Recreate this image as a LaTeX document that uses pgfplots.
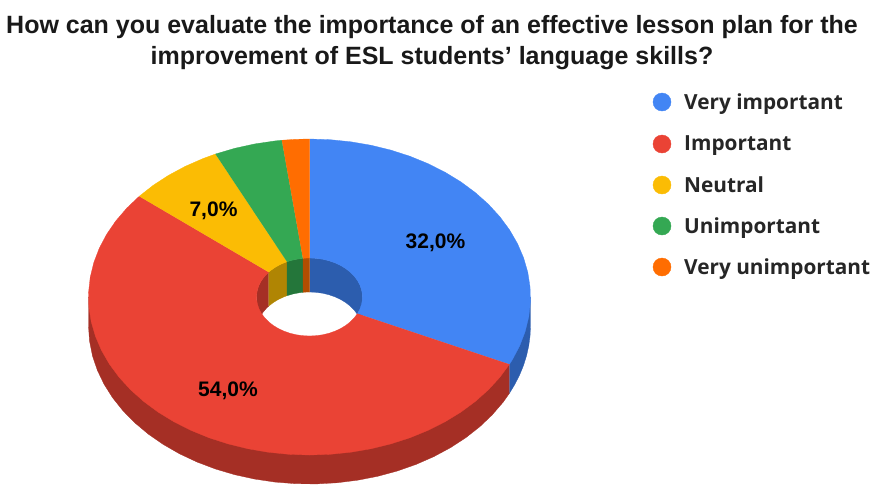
\documentclass[border=0pt]{standalone}
\usepackage{pgfplots}
\pgfplotsset{compat=1.18}
\usepackage{fontspec}
\setmainfont{Liberation Sans}
\newfontfamily\legfont{Open Sans}
\definecolor{cB}{HTML}{4285F4}\definecolor{cR}{HTML}{EA4335}\definecolor{cY}{HTML}{FBBC04}\definecolor{cG}{HTML}{34A853}\definecolor{cO}{HTML}{FF6D01}
\definecolor{dB}{HTML}{2C5DAE}\definecolor{dR}{HTML}{A52F25}\definecolor{dY}{HTML}{B08503}\definecolor{dG}{HTML}{24763A}\definecolor{dO}{HTML}{B34D01}
% Each row: a = cumulative share in percent, r = 1 outer / 0 inner rim, d = 0 top / 1 bottom of the ring
\pgfplotsset{table/.cd,pie/.style={row sep=\\,
  x expr={309.5+(\thisrow{r}*221+(1-\thisrow{r})*53)*sin(3.6*\thisrow{a})},
  y expr={297-(\thisrow{r}*158+(1-\thisrow{r})*39)*cos(3.6*\thisrow{a})+\thisrow{d}*(\thisrow{r}*29+(1-\thisrow{r})*34)}}}
\begin{document}
\begin{tikzpicture}
\begin{axis}[hide axis,scale only axis,width=872pt,height=484pt,xmin=0,xmax=872,ymin=0,ymax=484,y dir=reverse,clip=false]
\path (axis cs:0,0) rectangle (axis cs:872,484);
% outer walls
\addplot[fill=dB,draw=dB,line width=.3pt] table[pie]{a r d\\25 1 0\\32 1 0\\32 1 1\\31 1 1\\30 1 1\\29 1 1\\28 1 1\\27 1 1\\26 1 1\\25 1 1\\};
\addplot[fill=dR,draw=dR,line width=.3pt] table[pie]{a r d\\32 1 0\\50 1 0\\75 1 0\\75 1 1\\73.5 1 1\\72 1 1\\70.5 1 1\\69 1 1\\67.5 1 1\\66 1 1\\64.5 1 1\\63 1 1\\61.5 1 1\\60 1 1\\58.5 1 1\\57 1 1\\55.5 1 1\\54 1 1\\52.5 1 1\\51 1 1\\49.5 1 1\\48 1 1\\46.5 1 1\\45 1 1\\43.5 1 1\\42 1 1\\40.5 1 1\\39 1 1\\37.5 1 1\\36 1 1\\34.5 1 1\\33 1 1\\32 1 1\\};
% inner walls
\addplot[fill=dB,draw=dB,line width=.3pt] table[pie]{a r d\\0 0 0\\2 0 0\\4 0 0\\6 0 0\\8 0 0\\10 0 0\\12 0 0\\14 0 0\\16 0 0\\18 0 0\\20 0 0\\22 0 0\\24 0 0\\25 0 0\\25 0 1\\24 0 1\\22 0 1\\20 0 1\\18 0 1\\16 0 1\\14 0 1\\12 0 1\\10 0 1\\8 0 1\\6 0 1\\4 0 1\\2 0 1\\0 0 1\\};
\addplot[fill=dR,draw=dR,line width=.3pt] table[pie]{a r d\\75 0 0\\77 0 0\\79 0 0\\81 0 0\\83 0 0\\85 0 0\\86 0 0\\86 0 1\\85 0 1\\83 0 1\\81 0 1\\79 0 1\\77 0 1\\75 0 1\\};
\addplot[fill=dY,draw=dY,line width=.3pt] table[pie]{a r d\\86 0 0\\88 0 0\\90 0 0\\92 0 0\\93 0 0\\93 0 1\\92 0 1\\90 0 1\\88 0 1\\86 0 1\\};
\addplot[fill=dG,draw=dG,line width=.3pt] table[pie]{a r d\\93 0 0\\95 0 0\\97 0 0\\98 0 0\\98 0 1\\97 0 1\\95 0 1\\93 0 1\\};
\addplot[fill=dO,draw=dO,line width=.3pt] table[pie]{a r d\\98 0 0\\99 0 0\\100 0 0\\100 0 1\\99 0 1\\98 0 1\\};
% top faces
\addplot[fill=cB,draw=cB,line width=.3pt] table[pie]{a r d\\0 1 0\\1.5 1 0\\3 1 0\\4.5 1 0\\6 1 0\\7.5 1 0\\9 1 0\\10.5 1 0\\12 1 0\\13.5 1 0\\15 1 0\\16.5 1 0\\18 1 0\\19.5 1 0\\21 1 0\\22.5 1 0\\24 1 0\\25.5 1 0\\27 1 0\\28.5 1 0\\30 1 0\\31.5 1 0\\32 1 0\\32 0 0\\30 0 0\\28 0 0\\26 0 0\\24 0 0\\22 0 0\\20 0 0\\18 0 0\\16 0 0\\14 0 0\\12 0 0\\10 0 0\\8 0 0\\6 0 0\\4 0 0\\2 0 0\\0 0 0\\};
\addplot[fill=cR,draw=cR,line width=.3pt] table[pie]{a r d\\32 1 0\\33.5 1 0\\35 1 0\\36.5 1 0\\38 1 0\\39.5 1 0\\41 1 0\\42.5 1 0\\44 1 0\\45.5 1 0\\47 1 0\\48.5 1 0\\50 1 0\\51.5 1 0\\53 1 0\\54.5 1 0\\56 1 0\\57.5 1 0\\59 1 0\\60.5 1 0\\62 1 0\\63.5 1 0\\65 1 0\\66.5 1 0\\68 1 0\\69.5 1 0\\71 1 0\\72.5 1 0\\74 1 0\\75.5 1 0\\77 1 0\\78.5 1 0\\80 1 0\\81.5 1 0\\83 1 0\\84.5 1 0\\86 1 0\\86 0 0\\84 0 0\\82 0 0\\80 0 0\\78 0 0\\76 0 0\\74 0 0\\72 0 0\\70 0 0\\68 0 0\\66 0 0\\64 0 0\\62 0 0\\60 0 0\\58 0 0\\56 0 0\\54 0 0\\52 0 0\\50 0 0\\48 0 0\\46 0 0\\44 0 0\\42 0 0\\40 0 0\\38 0 0\\36 0 0\\34 0 0\\32 0 0\\};
\addplot[fill=cY,draw=cY,line width=.3pt] table[pie]{a r d\\86 1 0\\87.5 1 0\\89 1 0\\90.5 1 0\\92 1 0\\93 1 0\\93 0 0\\91 0 0\\89 0 0\\87 0 0\\86 0 0\\};
\addplot[fill=cG,draw=cG,line width=.3pt] table[pie]{a r d\\93 1 0\\94.5 1 0\\96 1 0\\97.5 1 0\\98 1 0\\98 0 0\\96 0 0\\94 0 0\\93 0 0\\};
\addplot[fill=cO,draw=cO,line width=.3pt] table[pie]{a r d\\98 1 0\\99 1 0\\100 1 0\\100 0 0\\99 0 0\\98 0 0\\};
% legend markers
\addplot[only marks,mark=*,mark size=9pt,color=cB] coordinates {(662,102)};
\addplot[only marks,mark=*,mark size=9pt,color=cR] coordinates {(662,144)};
\addplot[only marks,mark=*,mark size=9pt,color=cY] coordinates {(662,185)};
\addplot[only marks,mark=*,mark size=9pt,color=cG] coordinates {(662,226)};
\addplot[only marks,mark=*,mark size=9pt,color=cO] coordinates {(662,267)};
% texts
\node[anchor=base,inner sep=0pt,align=center,text=black!90] at (axis cs:432,33.5) {\fontsize{25}{30}\selectfont\bfseries How can you evaluate the importance of an effective lesson plan for the};
\node[anchor=base,inner sep=0pt,text=black!90] at (axis cs:432,64) {\fontsize{25}{30}\selectfont\bfseries improvement of ESL students’ language skills?};
\node[anchor=base west,inner sep=0pt,text=black!85] at (axis cs:684,109) {\fontsize{20.8}{25}\selectfont\legfont\bfseries Very important};
\node[anchor=base west,inner sep=0pt,text=black!85] at (axis cs:684,150) {\fontsize{20.8}{25}\selectfont\legfont\bfseries Important};
\node[anchor=base west,inner sep=0pt,text=black!85] at (axis cs:684,192) {\fontsize{20.8}{25}\selectfont\legfont\bfseries Neutral};
\node[anchor=base west,inner sep=0pt,text=black!85] at (axis cs:684,233) {\fontsize{20.8}{25}\selectfont\legfont\bfseries Unimportant};
\node[anchor=base west,inner sep=0pt,text=black!85] at (axis cs:684,274) {\fontsize{20.8}{25}\selectfont\legfont\bfseries Very unimportant};
\node[anchor=base,inner sep=0pt] at (axis cs:435.5,248) {\fontsize{21}{25}\selectfont\bfseries 32,0\%};
\node[anchor=base,inner sep=0pt] at (axis cs:213.5,216.5) {\fontsize{21}{25}\selectfont\bfseries 7,0\%};
\node[anchor=base,inner sep=0pt] at (axis cs:228,396.5) {\fontsize{21}{25}\selectfont\bfseries 54,0\%};
\end{axis}
\end{tikzpicture}
\end{document}
